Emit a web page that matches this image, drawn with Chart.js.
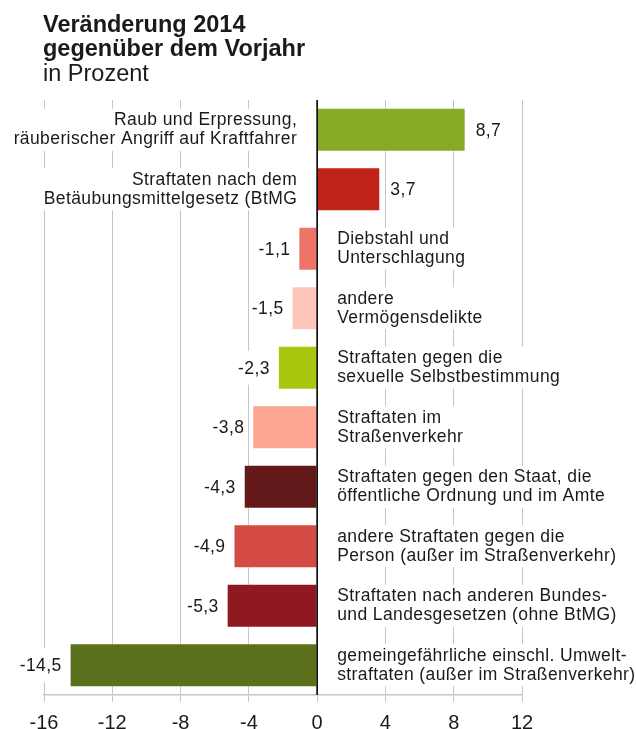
<!DOCTYPE html>
<html>
<head>
<meta charset="utf-8">
<script src="https://cdn.jsdelivr.net/npm/chart.js@4/dist/chart.umd.min.js"></script>
<style>
  html, body { margin: 0; padding: 0; background: #ffffff; }
  #wrap { position: relative; width: 636px; height: 729px; overflow: hidden; }
  canvas { display: block; }
</style>
</head>
<body>
<div id="wrap"><canvas id="c" width="636" height="729"></canvas></div>
<script>
const titleLines = ["Veränderung 2014", "gegenüber dem Vorjahr", "in Prozent"];

const categories = [
  ["Raub und Erpressung,", "räuberischer Angriff auf Kraftfahrer"],
  ["Straftaten nach dem", "Betäubungsmittelgesetz (BtMG"],
  ["Diebstahl und", "Unterschlagung"],
  ["andere", "Vermögensdelikte"],
  ["Straftaten gegen die", "sexuelle Selbstbestimmung"],
  ["Straftaten im", "Straßenverkehr"],
  ["Straftaten gegen den Staat, die", "öffentliche Ordnung und im Amte"],
  ["andere Straftaten gegen die", "Person (außer im Straßenverkehr)"],
  ["Straftaten nach anderen Bundes-", "und Landesgesetzen (ohne BtMG)"],
  ["gemeingefährliche einschl. Umwelt-", "straftaten (außer im Straßenverkehr)"]
];

const values = [8.7, 3.7, -1.1, -1.5, -2.3, -3.8, -4.3, -4.9, -5.3, -14.5];

const barColors = ["#86a926", "#c02318", "#f07369", "#fdc6b9", "#a7c80f",
                   "#fea592", "#63181a", "#d44b45", "#901820", "#5b701b"];

const xTicks = [-16, -12, -8, -4, 0, 4, 8, 12];

const TEXT = "#1a1a1a";
const GRID = "#c6c6c6";
const LABEL_FONT = "17.5px 'Liberation Sans', Arial, sans-serif";

function fmt(v) { return String(v).replace(".", ","); }

const labelPlugin = {
  id: "labelPlugin",
  afterDatasetsDraw(chart) {
    const ctx = chart.ctx;
    const meta = chart.getDatasetMeta(0);
    const xs = chart.scales.x;
    const area = chart.chartArea;
    const zeroX = xs.getPixelForValue(0);
    ctx.save();
    // zero line
    ctx.strokeStyle = "#111";
    ctx.lineWidth = 1.7;
    ctx.beginPath();
    ctx.moveTo(zeroX, area.top);
    ctx.lineTo(zeroX, area.bottom);
    ctx.stroke();

    ctx.font = LABEL_FONT;
    if ('letterSpacing' in ctx) ctx.letterSpacing = "0.4px";
    ctx.textBaseline = "middle";
    meta.data.forEach((bar, i) => {
      const v = values[i];
      const y = bar.y;
      const lines = categories[i];
      const w = Math.max(...lines.map(l => ctx.measureText(l).width));
      // category label
      let lx, align;
      if (v >= 0) { lx = zeroX - 20; align = "right"; }
      else { lx = zeroX + 20; align = "left"; }
      ctx.fillStyle = "#ffffff";
      const bx = align === "right" ? lx - w - 2 : lx - 2;
      ctx.fillRect(bx, y - 21, w + 4, 42);
      ctx.fillStyle = TEXT;
      ctx.textAlign = align;
      ctx.fillText(lines[0], lx, y - 9.5);
      ctx.fillText(lines[1], lx, y + 9.5);
      // value label
      const s = fmt(v);
      const vw = ctx.measureText(s).width;
      let vx, valign;
      if (v >= 0) { vx = bar.x + 10; valign = "left"; }
      else { vx = bar.x - 8; valign = "right"; }
      ctx.fillStyle = "#ffffff";
      const vbx = valign === "right" ? vx - vw - 2 : vx - 2;
      ctx.fillRect(vbx, y - 17, vw + 4, 34);
      ctx.fillStyle = TEXT;
      ctx.textAlign = valign;
      ctx.fillText(s, vx, y + 1);
    });

    // title
    if ('letterSpacing' in ctx) ctx.letterSpacing = "0px";
    ctx.textAlign = "left";
    ctx.textBaseline = "alphabetic";
    ctx.fillStyle = TEXT;
    ctx.font = "bold 23.5px 'Liberation Sans', Arial, sans-serif";
    ctx.fillText(titleLines[0], 43, 31.7);
    ctx.fillText(titleLines[1], 43, 56.2);
    ctx.font = "23.5px 'Liberation Sans', Arial, sans-serif";
    ctx.fillText(titleLines[2], 43, 80.7);
    ctx.restore();
  }
};

new Chart(document.getElementById("c"), {
  type: "bar",
  data: {
    labels: categories.map(c => c.join(" ")),
    datasets: [{
      data: values,
      backgroundColor: barColors,
      borderColor: "rgba(255,255,255,0.35)",
      borderWidth: 1,
      borderSkipped: "start",
      categoryPercentage: 1,
      barPercentage: 0.74
    }]
  },
  options: {
    indexAxis: "y",
    responsive: false,
    animation: false,
    devicePixelRatio: 1,
    layout: { padding: { left: 44, right: 114, top: 100, bottom: 0 } },
    plugins: {
      legend: { display: false },
      tooltip: { enabled: false },
      title: { display: false }
    },
    scales: {
      y: { type: "category", display: false, offset: true },
      x: {
        type: "linear",
        min: xTicks[0],
        max: xTicks[xTicks.length - 1],
        afterBuildTicks(scale) { scale.ticks = xTicks.map(v => ({ value: v })); },
        afterFit(scale) { scale.height = 34; },
        ticks: {
          font: { family: "'Liberation Sans', Arial, sans-serif", size: 20 },
          color: TEXT,
          padding: 9,
          maxRotation: 0,
          callback: (v) => String(v)
        },
        grid: { color: GRID, lineWidth: 1, tickLength: 7, tickColor: GRID },
        border: { color: GRID, width: 1.5 }
      }
    }
  },
  plugins: [labelPlugin]
});
</script>
</body>
</html>
